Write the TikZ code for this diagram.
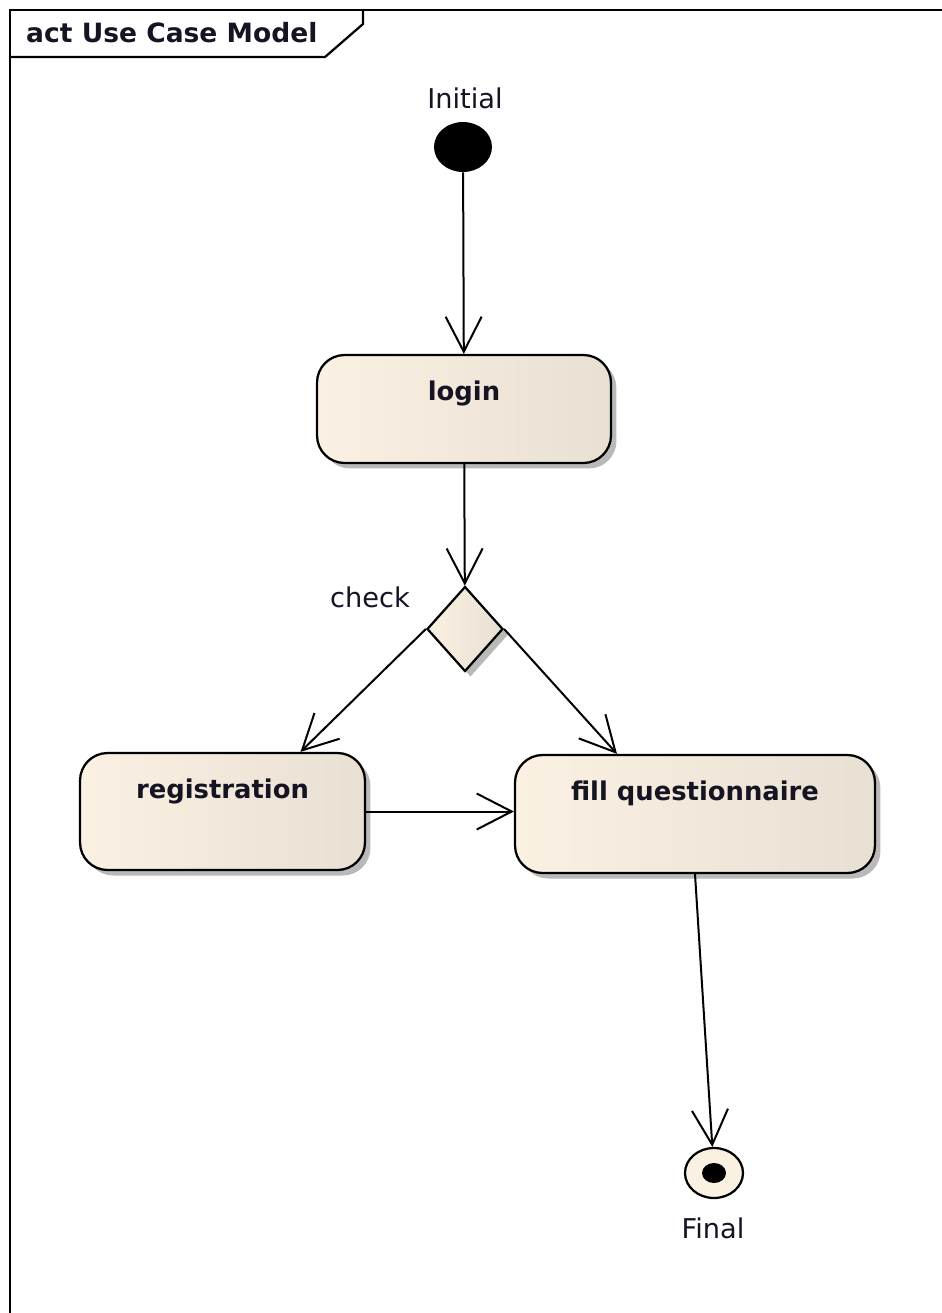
\documentclass[tikz,border=0pt]{standalone}
\usepackage{fontspec}
\setmainfont{DejaVu Sans}
\usetikzlibrary{shapes.geometric,arrows.meta,calc,shadows}
\definecolor{actleft}{RGB}{251,241,227}
\definecolor{actright}{RGB}{232,224,211}
\definecolor{shadowgray}{RGB}{185,185,185}
\definecolor{inktext}{RGB}{20,20,35}

\begin{document}
\begin{tikzpicture}[x=0.02cm, y=-0.02cm,
            act/.style={rectangle, rounded corners=0.55cm, draw, line width=0.45mm, left color=actleft, right color=actright, inner ysep=0pt, text height=0.9cm, drop shadow={shadow xshift=1.1mm, shadow yshift=-1.1mm, fill=shadowgray, opacity=1}, font=\fontsize{14.7}{17}\selectfont\bfseries, text=inktext},
            choice/.style={diamond, draw, line width=0.45mm, left color=actleft, right color=actright, inner sep=0pt, minimum width=1.52cm, minimum height=1.7cm, drop shadow={shadow xshift=1.1mm, shadow yshift=-1.1mm, fill=shadowgray, opacity=1}},
            initnode/.style={ellipse, fill=black, inner sep=0pt, minimum width=1.16cm, minimum height=1cm},
            finalnode/.style={ellipse, draw, line width=0.45mm, fill=actleft, inner sep=0pt, minimum width=1.16cm, minimum height=1cm, path picture={\fill[black] (path picture bounding box.center) ellipse [x radius=0.24cm, y radius=0.2cm];}},
            caption/.style={font=\fontsize{15.5}{18}\selectfont, text=inktext},
            border/.style={line width=0.45mm},
            flow/.style={-{Straight Barb[length=7mm, width=7.2mm]}, line width=0.4mm}
        ]
        \useasboundingbox (0,0) rectangle (941,1313);

        % Frame
        \draw[border] (10,1340) -- (10,10) -- (960,10);
        \draw[border] (10,57) -- (325,57) -- (363,24) -- (363,10);
        \node[anchor=west, font=\fontsize{15.1}{18}\selectfont\bfseries, text=inktext] (frametitle) at (20,33) {act Use Case Model};

        % Start
        \node[initnode] (init) at (463,147) {};
        \node[caption] (initlbl) at (465,98) {Initial};

        % Actions
        \node[act, minimum width=5.88cm, text depth=1.26cm] (login) at (464,409) {login};
        \node[choice] (chk) at (465,629) {};
        \node[caption] (chklbl) at (370,597) {check};
        \node[act, minimum width=5.7cm, text depth=1.44cm] (reg) at (222.5,811.5) {registration};
        \node[act, minimum width=7.2cm, text depth=1.46cm] (fq) at (695,814) {fill questionnaire};

        % End
        \node[finalnode] (fin) at (714,1173) {};
        \node[caption] (finlbl) at (713,1228) {Final};

        % Flows
        \draw[flow] (init) -- (login);
        \draw[flow] (login) -- (chk);
        \draw[flow] (chk.west) -- ($(reg.north)+(78,0)$);
        \draw[flow] (chk.east) -- ($(fq.north)+(-78,0)$);
        \draw[flow] (reg.east) -- (reg.east -| fq.west);
        \draw[flow] (fq.south) -- (fin);

        \end{tikzpicture}
\end{document}
